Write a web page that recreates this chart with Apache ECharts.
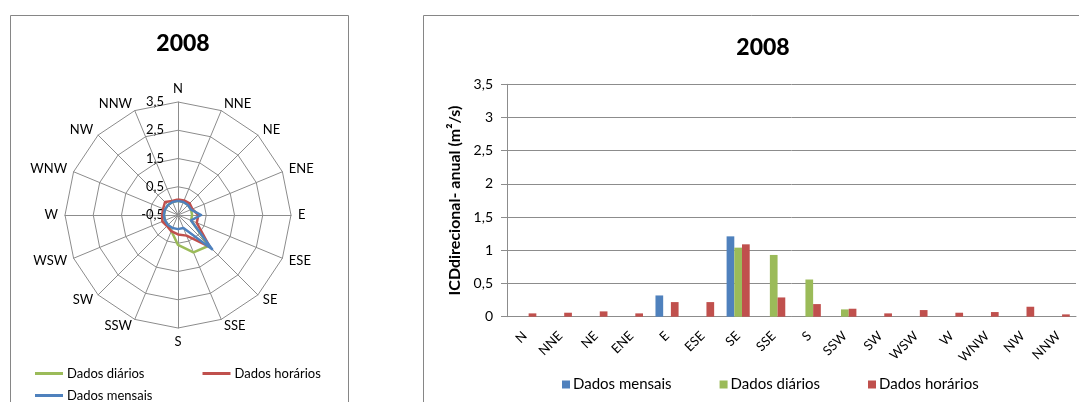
<!DOCTYPE html>
<html><head><meta charset="utf-8">
<script src="https://cdn.jsdelivr.net/npm/echarts@6/dist/echarts.min.js"></script>
<style>html,body{margin:0;padding:0;background:#fff}#c{width:1079px;height:402px}</style>
</head><body><div id="c"></div>
<script>
// ---- data ----
const categories = ['N','NNE','NE','ENE','E','ESE','SE','SSE','S','SSW','SW','WSW','W','WNW','NW','NNW'];
const dadosMensais  = [0,0,0,0,0.32,0,1.21,0,0,0,0,0,0,0,0,0];
const dadosDiarios  = [0,0,0,0,0,0,1.04,0.93,0.56,0.11,0,0,0,0,0,0];
const dadosHorarios = [0.05,0.06,0.08,0.05,0.22,0.22,1.09,0.29,0.19,0.12,0.05,0.10,0.06,0.07,0.15,0.035];
const titleText = '2008';
const yAxisName = 'ICDdirecional- anual (m²/s)';
const barYMin = 0, barYMax = 3.5, barYStep = 0.5;
const radarMin = -0.5, radarMax = 3.5, radarSplits = 4;
const seriesNames = ['Dados mensais','Dados diários','Dados horários'];

// ---- style ----
const FONT = 'Lato';
const C_BLUE = '#4F81BD', C_GREEN = '#9BBB59', C_RED = '#C0504D';
const GRID = '#8C8C8C';
const comma = v => String(v).replace('.', ',');

// radar goes counter-clockwise in ECharts: reorder so compass runs clockwise
const order = [0].concat(categories.map((c, i) => i).slice(1).reverse());
const indicators = order.map((i, k) => {
  const o = { name: categories[i], min: radarMin, max: radarMax };
  if (k === 0) o.axisLabel = { show: true };
  return o;
});
const reorder = arr => order.map(i => arr[i]);

const chart = echarts.init(document.getElementById('c'), null, { renderer: 'canvas' });
chart.setOption({
  animation: false,
  textStyle: { fontFamily: FONT },
  graphic: [
    { type: 'rect', shape: { x: 10.5, y: 15.5, width: 338, height: 420 }, style: { fill: 'none', stroke: '#868686', lineWidth: 1 }, silent: true },
    { type: 'rect', shape: { x: 423.5, y: 15.5, width: 700, height: 420 }, style: { fill: 'none', stroke: '#868686', lineWidth: 1 }, silent: true }
  ],
  title: [
    { text: titleText, left: 178, top: 27, textAlign: 'center', textStyle: { fontFamily: FONT, fontWeight: 900, fontSize: 23, color: '#000' } },
    { text: titleText, left: 758, top: 31, textAlign: 'center', textStyle: { fontFamily: FONT, fontWeight: 900, fontSize: 23, color: '#000' } }
  ],
  legend: [
    { data: [{ name: seriesNames[1], icon: 'rect' }, { name: seriesNames[2], icon: 'rect' }],
      left: 35, top: 367, padding: 0, itemWidth: 28, itemHeight: 3, itemGap: 58, selectedMode: false,
      textStyle: { fontFamily: FONT, fontSize: 13, color: '#000', padding: [0, 0, 0, -1] } },
    { data: [{ name: seriesNames[0], icon: 'rect' }],
      left: 35, top: 389, padding: 0, itemWidth: 28, itemHeight: 3, selectedMode: false,
      textStyle: { fontFamily: FONT, fontSize: 13, color: '#000', padding: [0, 0, 0, -1] } },
    { data: seriesNames.map(n => ({ name: n, icon: 'rect' })),
      left: 562, top: 377, padding: 0, itemWidth: 8, itemHeight: 8, itemGap: 48, selectedMode: false,
      textStyle: { fontFamily: FONT, fontSize: 15, color: '#000', padding: [0, 0, 0, -2] } }
  ],
  radar: {
    center: [178, 215], radius: 113, startAngle: 90, shape: 'polygon',
    splitNumber: radarSplits, nameGap: 7,
    axisName: { color: '#000', fontFamily: FONT, fontSize: 13 },
    axisLine: { show: true, lineStyle: { color: GRID, width: 1 } },
    splitLine: { show: true, lineStyle: { color: GRID, width: 1 } },
    splitArea: { show: false },
    axisTick: { show: false },
    axisLabel: { show: false, color: '#000', fontFamily: FONT, fontSize: 13, margin: 14, formatter: comma, showMinLabel: true, showMaxLabel: true },
    indicator: indicators
  },
  grid: { left: 507, right: 3, top: 84.3, height: 232.4 },
  xAxis: {
    type: 'category', data: categories,
    axisLine: { lineStyle: { color: GRID, width: 1 } },
    axisTick: { show: false },
    axisLabel: { rotate: 45, color: '#000', fontFamily: FONT, fontSize: 13, margin: 17, interval: 0 }
  },
  yAxis: {
    type: 'value', min: barYMin, max: barYMax, interval: barYStep,
    name: yAxisName, nameLocation: 'middle', nameGap: 41,
    nameTextStyle: { fontFamily: FONT, fontWeight: 'bold', fontSize: 16, color: '#000' },
    axisLine: { show: true, lineStyle: { color: GRID, width: 1 } },
    axisTick: { show: true, length: 6, lineStyle: { color: GRID } },
    splitLine: { lineStyle: { color: GRID, width: 1 } },
    axisLabel: { color: '#000', fontFamily: FONT, fontSize: 14, margin: 14, formatter: comma }
  },
  series: [
    { type: 'radar', symbol: 'none',
      data: [
        { name: seriesNames[1], value: reorder(dadosDiarios), lineStyle: { color: C_GREEN, width: 2.5 }, itemStyle: { color: C_GREEN } },
        { name: seriesNames[2], value: reorder(dadosHorarios), lineStyle: { color: C_RED, width: 2.5 }, itemStyle: { color: C_RED } },
        { name: seriesNames[0], value: reorder(dadosMensais), lineStyle: { color: C_BLUE, width: 2.5 }, itemStyle: { color: C_BLUE } }
      ] },
    { type: 'bar', name: seriesNames[0], data: dadosMensais, barGap: '0%', barCategoryGap: '35%', itemStyle: { color: C_BLUE } },
    { type: 'bar', name: seriesNames[1], data: dadosDiarios, barGap: '0%', barCategoryGap: '35%', itemStyle: { color: C_GREEN } },
    { type: 'bar', name: seriesNames[2], data: dadosHorarios, barGap: '0%', barCategoryGap: '35%', itemStyle: { color: C_RED } }
  ]
});
</script></body></html>
